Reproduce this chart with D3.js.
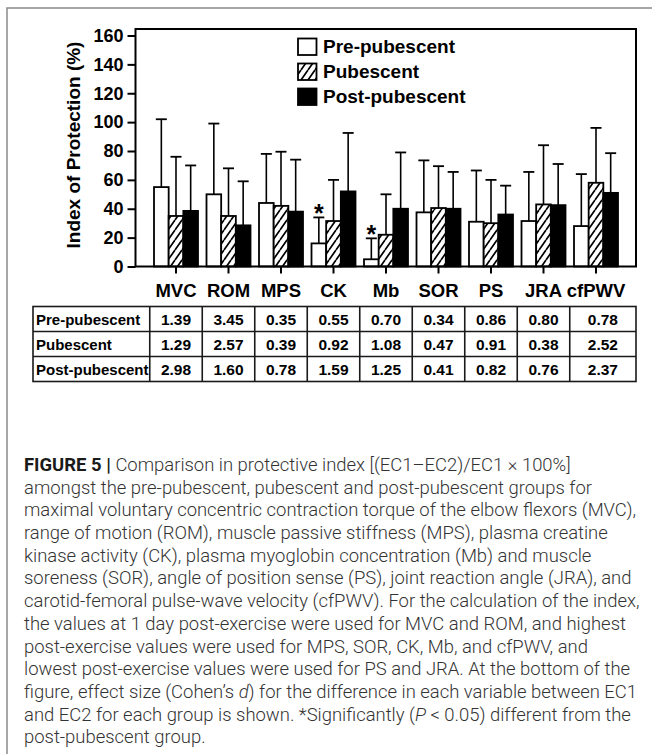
<!DOCTYPE html>
<html lang="en">
<head>
  <meta charset="UTF-8">
  <title>Figure 5</title>
  <style>
    body { margin: 0; background: #fff; }
    svg text { font-family: 'Liberation Sans', Arial, sans-serif; }
  </style>
</head>
<body>
  <svg id="svg" width="652" height="754"></svg>
  <script src="https://cdn.jsdelivr.net/npm/d3@7"></script>
  <script>
    const categories = ['MVC', 'ROM', 'MPS', 'CK', 'Mb', 'SOR', 'PS', 'JRA', 'cfPWV']
    const groups = ['Pre-pubescent', 'Pubescent', 'Post-pubescent']

    // mean and SD of the index (%)
    const preMean = [55, 50, 44, 16, 5, 37.5, 31, 31.5, 28]
    const preSD = [47, 49, 34, 18, 14.5, 36, 35.5, 34, 36]
    const pubMean = [35, 35, 42, 31.5, 22, 40.5, 30, 43, 58]
    const pubSD = [41, 33, 37.5, 28.5, 28, 29, 30, 41, 38]
    const postMean = [38.5, 28.5, 38, 52, 40, 40, 36, 42.5, 51]
    const postSD = [31.5, 30.5, 36, 40.5, 39, 25.5, 20, 28.5, 27.5]

    // significantly different from post-pubescent (pre-pubescent bars)
    const starred = ['CK', 'Mb']

    // effect sizes (Cohen's d) table
    const preD = ['1.39', '3.45', '0.35', '0.55', '0.70', '0.34', '0.86', '0.80', '0.78']
    const pubD = ['1.29', '2.57', '0.39', '0.92', '1.08', '0.47', '0.91', '0.38', '2.52']
    const postD = ['2.98', '1.60', '0.78', '1.59', '1.25', '0.41', '0.82', '0.76', '2.37']

    const yTicks = [0, 20, 40, 60, 80, 100, 120, 140, 160]

    const captionLines = [
      [['FIGURE 5 | ', 'b'], ['Comparison in protective index [(EC1–EC2)/EC1 × 100%]']],
      [['amongst the pre-pubescent, pubescent and post-pubescent groups for']],
      [['maximal voluntary concentric contraction torque of the elbow flexors (MVC),']],
      [['range of motion (ROM), muscle passive stiffness (MPS), plasma creatine']],
      [['kinase activity (CK), plasma myoglobin concentration (Mb) and muscle']],
      [['soreness (SOR), angle of position sense (PS), joint reaction angle (JRA), and']],
      [['carotid-femoral pulse-wave velocity (cfPWV). For the calculation of the index,']],
      [['the values at 1 day post-exercise were used for MVC and ROM, and highest']],
      [['post-exercise values were used for MPS, SOR, CK, Mb, and cfPWV, and']],
      [['lowest post-exercise values were used for PS and JRA. At the bottom of the']],
      [['figure, effect size (Cohen’s '], ['d', 'i'], [') for the difference in each variable between EC1']],
      [['and EC2 for each group is shown. *Significantly ('], ['P', 'i'], [' < 0.05) different from the']],
      [['post-pubescent group.']]
    ]

    const svg = d3.select('#svg')

    // outer frame (top and left only)
    svg.append('path')
      .attr('d', 'M7,754 L7,8 L652,8')
      .attr('fill', 'none')
      .attr('stroke', '#8a8a8a')
      .attr('stroke-width', 1.5)

    const plot = { left: 135.5, top: 29, right: 636, bottom: 266.5 }

    const x = d3.scaleBand()
      .domain(categories)
      .range([149.75, 622.25])
      .padding(0)

    const x1 = d3.scaleBand()
      .domain(groups)
      .range([0, x.bandwidth()])
      .paddingInner(0)
      .paddingOuter(0.29)

    const y = d3.scaleLinear()
      .domain([0, 160])
      .range([plot.bottom, 35.5])

    // hatch pattern
    const defs = svg.append('defs')
    const pat = defs.append('pattern')
      .attr('id', 'hatch')
      .attr('patternUnits', 'userSpaceOnUse')
      .attr('width', 7)
      .attr('height', 10)
    pat.append('rect').attr('width', 7).attr('height', 10).attr('fill', '#fff')
    pat.append('path')
      .attr('d', 'M0,10 L7,0 M-7,10 L0,0 M7,10 L14,0')
      .attr('stroke', '#000')
      .attr('stroke-width', 1.7)

    const fills = { 'Pre-pubescent': '#fff', 'Pubescent': 'url(#hatch)', 'Post-pubescent': '#000' }

    const series = [
      { group: 'Pre-pubescent', mean: preMean, sd: preSD },
      { group: 'Pubescent', mean: pubMean, sd: pubSD },
      { group: 'Post-pubescent', mean: postMean, sd: postSD }
    ]
    const bars = []
    categories.forEach((c, i) => {
      series.forEach(s => {
        bars.push({ cat: c, group: s.group, mean: s.mean[i], sd: s.sd[i] })
      })
    })

    // error bars (upper only), drawn under the bars
    const errG = svg.append('g')
    const barX = d => x(d.cat) + x1(d.group) + x1.bandwidth() / 2
    errG.selectAll('line.err')
      .data(bars)
      .enter()
      .append('line')
      .attr('x1', barX)
      .attr('x2', barX)
      .attr('y1', d => y(d.mean))
      .attr('y2', d => y(d.mean + d.sd))
      .attr('stroke', '#000')
      .attr('stroke-width', 1.6)
    errG.selectAll('line.cap')
      .data(bars)
      .enter()
      .append('line')
      .attr('x1', d => barX(d) - 5.5)
      .attr('x2', d => barX(d) + 5.5)
      .attr('y1', d => y(d.mean + d.sd))
      .attr('y2', d => y(d.mean + d.sd))
      .attr('stroke', '#000')
      .attr('stroke-width', 1.8)

    svg.append('g')
      .selectAll('rect')
      .data(bars)
      .enter()
      .append('rect')
      .attr('x', d => x(d.cat) + x1(d.group))
      .attr('y', d => y(d.mean))
      .attr('width', x1.bandwidth())
      .attr('height', d => y(0) - y(d.mean))
      .attr('fill', d => fills[d.group])
      .attr('stroke', '#000')
      .attr('stroke-width', 1.8)

    // asterisks
    svg.append('g')
      .selectAll('text')
      .data(bars.filter(d => d.group === 'Pre-pubescent' && starred.includes(d.cat)))
      .enter()
      .append('text')
      .attr('x', barX)
      .attr('y', d => y(d.mean + d.sd) + 5)
      .attr('text-anchor', 'middle')
      .attr('font-size', 25)
      .attr('font-weight', 'bold')
      .text('*')

    // plot frame
    svg.append('rect')
      .attr('x', plot.left)
      .attr('y', plot.top)
      .attr('width', plot.right - plot.left)
      .attr('height', plot.bottom - plot.top)
      .attr('fill', 'none')
      .attr('stroke', '#000')
      .attr('stroke-width', 2)

    // left axis
    const leftAxis = d3.axisLeft(y)
      .tickValues(yTicks)
      .tickSize(8)
      .tickPadding(4)
    const gy = svg.append('g')
      .attr('transform', `translate(${plot.left}, 0)`)
      .call(leftAxis)
    gy.select('.domain').remove()
    gy.selectAll('line').attr('stroke', '#000').attr('stroke-width', 2)
    gy.selectAll('text')
      .attr('font-size', 18)
      .attr('font-weight', 'bold')
      .attr('fill', '#000')
      .attr('font-family', "'Liberation Sans', Arial, sans-serif")

    // bottom axis
    const bottomAxis = d3.axisBottom(x)
      .tickSize(7)
      .tickPadding(10.5)
    const gx = svg.append('g')
      .attr('transform', `translate(0, ${plot.bottom})`)
      .call(bottomAxis)
    gx.select('.domain').remove()
    gx.selectAll('line').attr('stroke', '#000').attr('stroke-width', 2)
    gx.selectAll('text')
      .attr('font-size', 18.5)
      .attr('font-weight', 'bold')
      .attr('fill', '#000')
      .attr('font-family', "'Liberation Sans', Arial, sans-serif")

    // y label
    svg.append('text')
      .attr('transform', 'translate(80, 145) rotate(-90)')
      .attr('text-anchor', 'middle')
      .attr('font-size', 19)
      .attr('font-weight', 'bold')
      .text('Index of Protection (%)')

    // legend
    const legend = svg.append('g')
    groups.forEach((g, i) => {
      legend.append('rect')
        .attr('x', 298)
        .attr('y', 38.5 + i * 25)
        .attr('width', 18.5)
        .attr('height', 16.5)
        .attr('fill', fills[g])
        .attr('stroke', '#000')
        .attr('stroke-width', 1.8)
      legend.append('text')
        .attr('x', 323)
        .attr('y', 53 + i * 25)
        .attr('font-size', 19)
        .attr('font-weight', 'bold')
        .text(g)
    })

    // effect size table
    const table = { left: 33, right: 636, top: 306.5, rowH: 25 }
    const edges = [table.left].concat(categories.map(c => x(c)), [table.right])
    const rows = [preD, pubD, postD]
    const tg = svg.append('g')
    tg.append('rect')
      .attr('x', table.left)
      .attr('y', table.top)
      .attr('width', table.right - table.left)
      .attr('height', table.rowH * rows.length)
      .attr('fill', 'none')
      .attr('stroke', '#1a1a1a')
      .attr('stroke-width', 1.6)
    edges.slice(1, -1).forEach(e => {
      tg.append('line')
        .attr('x1', e).attr('x2', e)
        .attr('y1', table.top).attr('y2', table.top + table.rowH * rows.length)
        .attr('stroke', '#1a1a1a').attr('stroke-width', 1.6)
    })
    for (let r = 1; r < rows.length; r++) {
      tg.append('line')
        .attr('x1', table.left).attr('x2', table.right)
        .attr('y1', table.top + r * table.rowH).attr('y2', table.top + r * table.rowH)
        .attr('stroke', '#1a1a1a').attr('stroke-width', 1.6)
    }
    rows.forEach((vals, r) => {
      const yy = table.top + r * table.rowH + 18
      tg.append('text')
        .attr('x', table.left + 3)
        .attr('y', yy)
        .attr('font-size', 15)
        .attr('font-weight', 'bold')
        .text(groups[r])
      vals.forEach((v, i) => {
        tg.append('text')
          .attr('x', (edges[i + 1] + edges[i + 2]) / 2)
          .attr('y', yy)
          .attr('text-anchor', 'middle')
          .attr('font-size', 15.5)
          .attr('font-weight', 'bold')
          .text(v)
      })
    })

    // caption
    const cap = svg.append('g')
    const capTexts = captionLines.map((segs, i) => {
      const t = cap.append('text')
        .attr('x', 0)
        .attr('y', 471 + i * 22.7)
        .attr('font-size', 17.5)
        .style('font-family', 'Roboto, "Liberation Sans", sans-serif')
        .attr('font-weight', 300)
        .attr('fill', '#333')
      segs.forEach(([s, st]) => {
        const sp = t.append('tspan').text(s)
        if (st === 'b') sp.attr('font-weight', 700).attr('fill', '#1a1a1a')
        if (st === 'i') sp.attr('font-style', 'italic')
      })
      return t
    })
    const w7 = capTexts[6].node().getComputedTextLength()
    const sx = (640 - 24) / w7
    cap.attr('transform', `translate(24, 0) scale(${sx}, 1)`)
  </script>
</body>
</html>
